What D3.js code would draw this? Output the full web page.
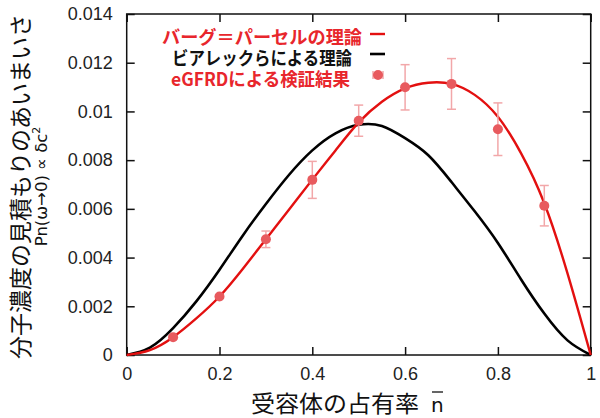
<!DOCTYPE html>
<html>
<head>
<meta charset="utf-8">
<script src="https://cdn.jsdelivr.net/npm/d3@7"></script>
<style>
  body { margin: 0; background: #fff; }
  svg { display: block; }
  .tick-label { font-family: "Liberation Sans", Arial, sans-serif; font-size: 18px; fill: #222; }
  .jp { font-family: "Noto Sans CJK JP", sans-serif; }
</style>
</head>
<body>
<div id="chart"></div>
<script>
// --- Layout ---
const width = 600;
const height = 418;
const margin = { top: 14, right: 9.3, bottom: 63, left: 126.7 };
const innerWidth = width - margin.left - margin.right;
const innerHeight = height - margin.top - margin.bottom;

// --- Data ---
// theory curves sampled every 0.05 of occupancy n
const curveN = [0, 0.05, 0.1, 0.15, 0.2, 0.25, 0.3, 0.35, 0.4, 0.45, 0.5,
  0.55, 0.6, 0.65, 0.7, 0.75, 0.8, 0.85, 0.9, 0.95, 1];
const bergPurcell = [0, 0.0002, 0.00073, 0.0015, 0.0024, 0.00353, 0.00475,
  0.00597, 0.0072, 0.0084, 0.00955, 0.0104, 0.01095, 0.01118, 0.01113,
  0.01068, 0.00978, 0.00828, 0.00623, 0.00335, 0];
const bialek = [0, 0.0003, 0.0011, 0.0022, 0.0035, 0.0049, 0.0062,
  0.0074, 0.0084, 0.0091, 0.00945, 0.0094, 0.0089, 0.0082, 0.0071,
  0.0059, 0.0046, 0.0031, 0.0017, 0.0006, 0];

// eGFRD simulation points with error bars
const simN = [0.1, 0.2, 0.3, 0.4, 0.5, 0.6, 0.7, 0.8, 0.9];
const simValue = [0.00073, 0.0024, 0.00475, 0.00719, 0.00962, 0.01099, 0.01113, 0.00927, 0.00613];
const simError = [0.00005, 0.00005, 0.00034, 0.00076, 0.00064, 0.00093, 0.00104, 0.00108, 0.00083];

const xTicks = [0, 0.2, 0.4, 0.6, 0.8, 1];
const yTicks = [0, 0.002, 0.004, 0.006, 0.008, 0.01, 0.012, 0.014];

const legendLabels = ["バーグ＝パーセルの理論", "ビアレックらによる理論", "eGFRDによる検証結果"];
const legendColors = ["#e8262c", "#111", "#e8262c"];

const RED = "#e31010";
const POINT = "#e85a5e";
const ERR = "#f2a7a9";

// --- SVG ---
const svg = d3.select("#chart").append("svg")
  .attr("width", width).attr("height", height);

const g = svg.append("g")
  .attr("transform", `translate(${margin.left},${margin.top})`);

const x = d3.scaleLinear().domain([0, 1]).range([0, innerWidth]);
const y = d3.scaleLinear().domain([0, 0.014]).range([innerHeight, 0]);

// axes: ticks inward on all four sides
const tickLen = 8;
function styleAxis(sel) {
  sel.select(".domain").remove();
  sel.selectAll(".tick line").attr("stroke", "#111").attr("stroke-width", 1.5);
}
function noLabels(sel) {
  sel.selectAll(".tick text").remove();
}
g.append("g").attr("transform", `translate(0,${innerHeight})`)
  .call(d3.axisBottom(x).tickValues(xTicks).tickSize(-tickLen).tickPadding(12).tickFormat(d3.format("")))
  .call(styleAxis)
  .selectAll("text").attr("class", "tick-label");
g.append("g")
  .call(d3.axisTop(x).tickValues(xTicks).tickSize(-tickLen))
  .call(styleAxis).call(noLabels);
g.append("g")
  .call(d3.axisLeft(y).tickValues(yTicks).tickSize(-tickLen).tickPadding(14).tickFormat(d3.format("")))
  .call(styleAxis)
  .selectAll("text").attr("class", "tick-label");
g.append("g").attr("transform", `translate(${innerWidth},0)`)
  .call(d3.axisRight(y).tickValues(yTicks).tickSize(-tickLen))
  .call(styleAxis).call(noLabels);

g.append("rect")
  .attr("width", innerWidth).attr("height", innerHeight)
  .attr("fill", "none").attr("stroke", "#111").attr("stroke-width", 1.5);

// --- curves ---
const line = d3.line()
  .x((d) => x(d[0]))
  .y((d) => y(d[1]))
  .curve(d3.curveNatural);

g.append("path")
  .datum(curveN.map((n, i) => [n, bialek[i]]))
  .attr("d", line).attr("fill", "none")
  .attr("stroke", "#000").attr("stroke-width", 2.6);

g.append("path")
  .datum(curveN.map((n, i) => [n, bergPurcell[i]]))
  .attr("d", line).attr("fill", "none")
  .attr("stroke", RED).attr("stroke-width", 2.4);

// --- simulation points ---
const sim = simN.map((n, i) => ({ n: n, v: simValue[i], e: simError[i] }));
const pts = g.selectAll("g.pt").data(sim).join("g").attr("class", "pt");
const cap = 4.5;
pts.append("line")
  .attr("x1", (d) => x(d.n)).attr("x2", (d) => x(d.n))
  .attr("y1", (d) => y(d.v - d.e)).attr("y2", (d) => y(d.v + d.e))
  .attr("stroke", ERR).attr("stroke-width", 1.5);
pts.selectAll("line.cap")
  .data((d) => [{ n: d.n, v: d.v - d.e }, { n: d.n, v: d.v + d.e }])
  .join("line").attr("class", "cap")
  .attr("x1", (d) => x(d.n) - cap).attr("x2", (d) => x(d.n) + cap)
  .attr("y1", (d) => y(d.v)).attr("y2", (d) => y(d.v))
  .attr("stroke", ERR).attr("stroke-width", 1.5);
pts.append("circle")
  .attr("cx", (d) => x(d.n)).attr("cy", (d) => y(d.v))
  .attr("r", 5).attr("fill", POINT);

// --- legend ---
const legend = svg.append("g");
const legendX = [162, 172, 171];
const legendY = [44, 65, 86];
const legendW = [200, 180, 179];
legendLabels.forEach((label, i) => {
  legend.append("text")
    .attr("class", "jp")
    .attr("x", legendX[i]).attr("y", legendY[i])
    .attr("font-size", 18).attr("font-weight", 700)
    .attr("textLength", legendW[i]).attr("lengthAdjust", "spacingAndGlyphs")
    .attr("fill", legendColors[i])
    .text(label);
});
legend.append("line").attr("x1", 370).attr("x2", 385).attr("y1", 34).attr("y2", 34)
  .attr("stroke", RED).attr("stroke-width", 2.4);
legend.append("line").attr("x1", 370).attr("x2", 385).attr("y1", 54).attr("y2", 54)
  .attr("stroke", "#000").attr("stroke-width", 2.6);
legend.append("line").attr("x1", 373).attr("x2", 383).attr("y1", 75).attr("y2", 75)
  .attr("stroke", ERR).attr("stroke-width", 1.5);
[373, 383].forEach((cx) => {
  legend.append("line").attr("x1", cx).attr("x2", cx).attr("y1", 71).attr("y2", 79)
    .attr("stroke", ERR).attr("stroke-width", 1.5);
});
legend.append("circle").attr("cx", 378).attr("cy", 75).attr("r", 5).attr("fill", POINT);

// --- axis titles ---
const xTitle = svg.append("text")
  .attr("class", "jp")
  .attr("x", 251).attr("y", 412)
  .attr("font-size", 23).attr("fill", "#111");
xTitle.append("tspan").attr("textLength", 168).attr("lengthAdjust", "spacingAndGlyphs").text("受容体の占有率");
xTitle.append("tspan").attr("x", 431).attr("font-family", "'DejaVu Sans', sans-serif").attr("font-size", 20).text("n");
svg.append("line").attr("x1", 432).attr("x2", 443).attr("y1", 392).attr("y2", 392)
  .attr("stroke", "#111").attr("stroke-width", 1.3);

const yMid = margin.top + innerHeight / 2 + 2;
svg.append("text")
  .attr("class", "jp")
  .attr("transform", `translate(29,${yMid}) rotate(-90)`)
  .attr("text-anchor", "middle")
  .attr("font-size", 23).attr("fill", "#111")
  .text("分子濃度の見積もりのあいまいさ");

const ySub = svg.append("text")
  .attr("transform", `translate(47,${yMid}) rotate(-90)`)
  .attr("text-anchor", "middle")
  .attr("font-family", "'DejaVu Sans', sans-serif")
  .attr("font-size", 16.5).attr("fill", "#111");
ySub.append("tspan").text("Pn(ω→0) ∝  δc");
ySub.append("tspan").attr("font-size", 11).attr("dy", -7).text("2");
</script>
</body>
</html>
